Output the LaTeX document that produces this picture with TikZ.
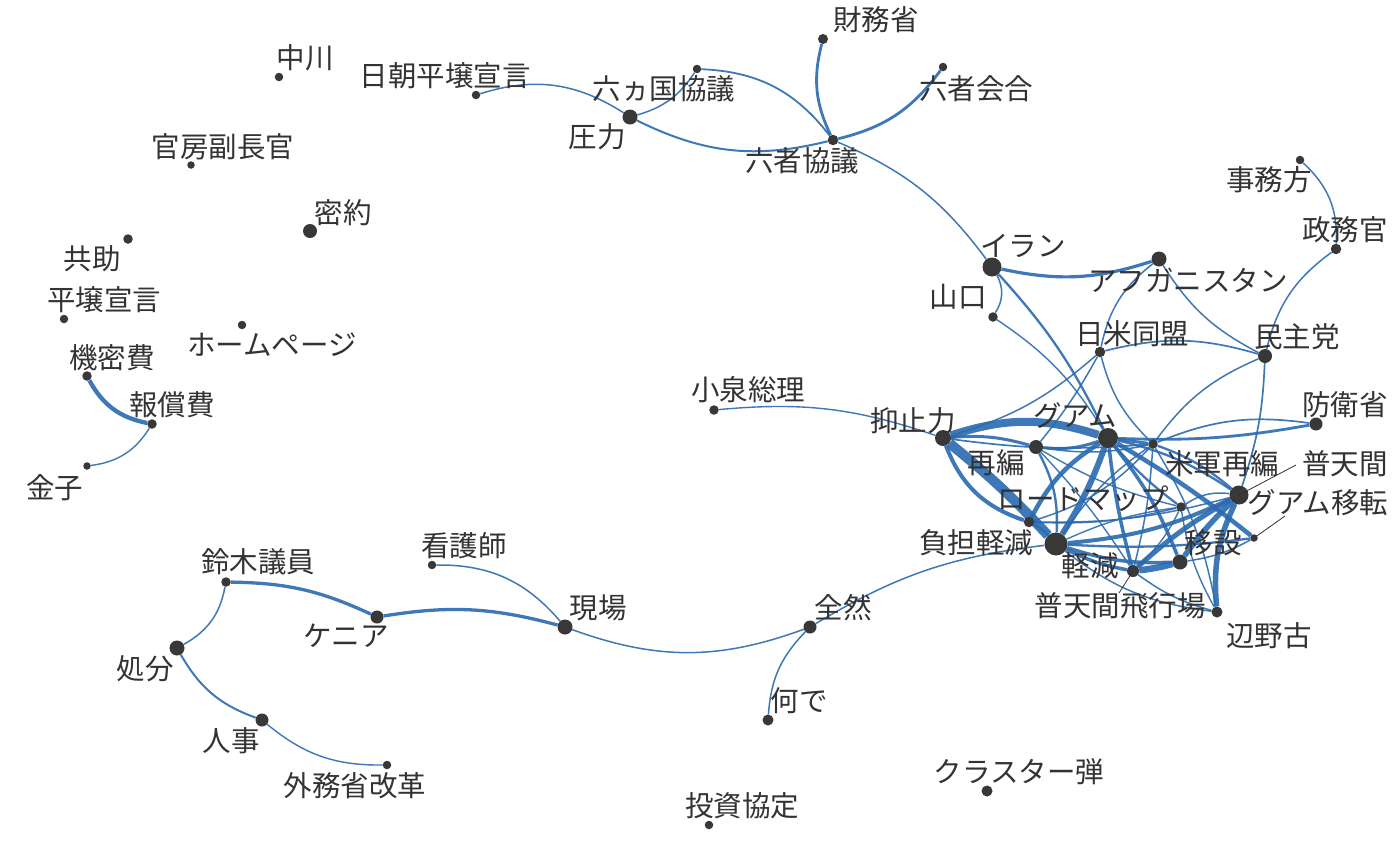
\documentclass[tikz,border=0pt]{standalone}
\usepackage{fontspec}
\newfontfamily\jp{Noto Sans CJK JP}
\usetikzlibrary{backgrounds}
\definecolor{edgeblue}{RGB}{42,106,176}
\definecolor{dotgray}{RGB}{56,56,56}
\definecolor{textgray}{RGB}{51,51,51}
\tikzset{
  dot/.style={circle,fill=dotgray,inner sep=0pt,minimum size=#1},
  lbl/.style={text=textgray,inner sep=0pt,font=\jp\fontsize{28.5}{32}\selectfont},
  lnk/.style={draw=edgeblue,line width=#1,draw opacity=0.9},
  leader/.style={draw=textgray,line width=0.8pt},
}
\begin{document}
\begin{tikzpicture}[x=1pt,y=-1pt]
\path[use as bounding box] (0,0) rectangle (1400,865);

% ---- word nodes (dot size ~ frequency)
\node[dot=8.5pt]  (nakagawa)  at (279,77)  {};
\node[dot=8.5pt]  (nicho)     at (476,95)  {};
\node[dot=7.5pt]  (kanbo)     at (191,165) {};
\node[dot=14pt] (mitsuyaku) at (310,231) {};
\node[dot=9.5pt]  (kyojo)     at (128,239) {};
\node[dot=8.5pt]  (heijo)     at (64,319)  {};
\node[dot=8.5pt]  (homepage)  at (242,325) {};
\node[dot=9.5pt]  (kimitsu)   at (87,376)  {};
\node[dot=9.5pt]  (hosho)     at (152,424) {};
\node[dot=7.5pt]  (kaneko)    at (87,466)  {};
\node[dot=8.5pt]  (rokkakoku) at (697,69)  {};
\node[dot=15pt] (atsuryoku) at (630,117) {};
\node[dot=10pt]  (zaimu)     at (823,39)  {};
\node[dot=8.5pt]  (rokukai)   at (943,67)  {};
\node[dot=10.5pt] (rokukyo)   at (833,140) {};
\node[dot=8.5pt]  (jimu)      at (1300,160) {};
\node[dot=10.5pt] (seimu)     at (1336,249) {};
\node[dot=19pt] (iran)      at (992,267) {};
\node[dot=15pt] (afghan)    at (1159,259) {};
\node[dot=9.5pt]  (yamaguchi) at (993,317) {};
\node[dot=10.5pt] (domei)     at (1100,352) {};
\node[dot=14pt] (minshu)    at (1265,356) {};
\node[dot=13pt] (boei)      at (1316,424) {};
\node[dot=9.5pt]  (koizumi)   at (714,410) {};
\node[dot=16pt] (yokushi)   at (943,438) {};
\node[dot=20pt] (guam)      at (1108,438) {};
\node[dot=14pt] (saihen)    at (1036,447) {};
\node[dot=9.5pt]  (beigun)    at (1153,444) {};
\node[dot=10.5pt] (keigen)    at (1029,522) {};
\node[dot=9.5pt]  (roadmap)   at (1181,507) {};
\node[dot=19pt] (futenma)   at (1239,495) {};
\node[dot=7.5pt]  (iten)      at (1254,538) {};
\node[dot=23pt] (futan)     at (1056,544) {};
\node[dot=15pt] (isetsu)    at (1180,562) {};
\node[dot=12pt] (hikojo)    at (1133,571) {};
\node[dot=11pt] (henoko)    at (1217,612) {};
\node[dot=13pt] (zenzen)    at (810,627) {};
\node[dot=11pt] (nande)     at (768,720) {};
\node[dot=15pt] (genba)     at (565,627) {};
\node[dot=8.5pt]  (kango)     at (432,565) {};
\node[dot=13pt] (kenya)     at (377,617) {};
\node[dot=9.5pt]  (suzuki)    at (226,582) {};
\node[dot=15pt] (shobun)    at (177,648) {};
\node[dot=13pt] (jinji)     at (262,720) {};
\node[dot=8.5pt]  (gaimu)     at (387,765) {};
\node[dot=8.5pt]  (toshi)     at (709,825) {};
\node[dot=11pt] (cluster)   at (987,791) {};

% ---- labels
\node[lbl] (l-nakagawa)  at (305,58)   {中川};
\node[lbl] (l-nicho)     at (445,76)   {日朝平壌宣言};
\node[lbl] (l-kanbo)     at (223,147)  {官房副長官};
\node[lbl] (l-mitsuyaku) at (343,213)  {密約};
\node[lbl] (l-kyojo)     at (92,259)   {共助};
\node[lbl] (l-heijo)     at (104,300)  {平壌宣言};
\node[lbl] (l-homepage)  at (272,345)  {ホームページ};
\node[lbl] (l-kimitsu)   at (112,358)  {機密費};
\node[lbl] (l-hosho)     at (172,405)  {報償費};
\node[lbl] (l-kaneko)    at (55,488)   {金子};
\node[lbl] (l-rokkakoku) at (664,89)   {六ヵ国協議};
\node[lbl] (l-atsuryoku) at (597,137)  {圧力};
\node[lbl] (l-zaimu)     at (876,20)   {財務省};
\node[lbl] (l-rokukai)   at (976,89)   {六者会合};
\node[lbl] (l-rokukyo)   at (802,161)  {六者協議};
\node[lbl] (l-jimu)      at (1269,180) {事務方};
\node[lbl] (l-seimu)     at (1345,230) {政務官};
\node[lbl] (l-iran)      at (1023,246) {イラン};
\node[lbl] (l-afghan)    at (1188,280) {アフガニスタン};
\node[lbl] (l-yamaguchi) at (958,297)  {山口};
\node[lbl] (l-domei)     at (1132,334) {日米同盟};
\node[lbl] (l-minshu)    at (1297,337) {民主党};
\node[lbl] (l-boei)      at (1345,405) {防衛省};
\node[lbl] (l-koizumi)   at (748,390)  {小泉総理};
\node[lbl] (l-yokushi)   at (913,421)  {抑止力};
\node[lbl] (l-guam)      at (1075,416) {グアム};
\node[lbl] (l-saihen)    at (996,463)  {再編};
\node[lbl] (l-beigun)    at (1222,464) {米軍再編};
\node[lbl] (l-futenma)   at (1345,464) {普天間};
\node[lbl] (l-roadmap)   at (1083,499) {ロードマップ};
\node[lbl] (l-iten)      at (1318,503) {グアム移転};
\node[lbl] (l-futan)     at (976,543)  {負担軽減};
\node[lbl] (l-isetsu)    at (1213,543) {移設};
\node[lbl] (l-keigen)    at (1090,566) {軽減};
\node[lbl] (l-hikojo)    at (1120,606) {普天間飛行場};
\node[lbl] (l-henoko)    at (1269,636) {辺野古};
\node[lbl] (l-zenzen)    at (843,608)  {全然};
\node[lbl] (l-nande)     at (799,701)  {何で};
\node[lbl] (l-genba)     at (598,608)  {現場};
\node[lbl] (l-kango)     at (464,546)  {看護師};
\node[lbl] (l-kenya)     at (346,636)  {ケニア};
\node[lbl] (l-suzuki)    at (258,562)  {鈴木議員};
\node[lbl] (l-shobun)    at (145,669)  {処分};
\node[lbl] (l-jinji)     at (231,741)  {人事};
\node[lbl] (l-gaimu)     at (355,786)  {外務省改革};
\node[lbl] (l-toshi)     at (742,806)  {投資協定};
\node[lbl] (l-cluster)   at (1019,772) {クラスター弾};

% ---- leader lines for displaced labels
\coordinate (p-futenma) at (1296,465);
\coordinate (p-iten)    at (1285,516);
\coordinate (p-hikojo)  at (1119,593);
\draw[leader] (futenma.center) -- (p-futenma);
\draw[leader] (iten.center) -- (p-iten);
\draw[leader] (hikojo.center) -- (p-hikojo);

\begin{pgfonlayer}{background}
\fill[white] (0,0) rectangle (1400,865);
% outer clusters
\draw[lnk=1.5pt] (nicho) to[bend left=25] (atsuryoku);
\draw[lnk=1.5pt] (atsuryoku) to[bend right=20] (rokkakoku);
\draw[lnk=2pt] (atsuryoku) to[bend right=20] (rokukyo);
\draw[lnk=1.8pt] (rokkakoku) to[bend left=25] (rokukyo);
\draw[lnk=2.8pt] (zaimu) to[bend right=20] (rokukyo);
\draw[lnk=2.8pt] (rokukyo) to[bend right=20] (rokukai);
\draw[lnk=1.5pt] (rokukyo) to[bend left=15] (iran);
\draw[lnk=3.2pt] (iran) to[bend right=15] (afghan);
\draw[lnk=1.5pt] (iran) to[bend left=30] (yamaguchi);
\draw[lnk=2.3pt] (iran) to[bend left=8] (guam);
\draw[lnk=1.4pt] (yamaguchi) to[bend left=12] (guam);
\draw[lnk=1.5pt] (afghan) to[bend right=20] (domei);
\draw[lnk=1.5pt] (afghan) to[bend right=15] (minshu);
\draw[lnk=1.7pt] (domei) to[bend left=15] (minshu);
\draw[lnk=1.5pt] (minshu) to[bend left=20] (seimu);
\draw[lnk=1.5pt] (seimu) to[bend right=25] (jimu);
\draw[lnk=1.5pt] (minshu) to[bend right=15] (beigun);
\draw[lnk=1.7pt] (minshu) to[bend left=8] (futenma);
\draw[lnk=1.7pt] (boei) to[bend right=15] (beigun);
\draw[lnk=2.8pt] (boei) to[bend left=6] (guam);
\draw[lnk=1.4pt] (koizumi) to[bend left=12] (yokushi);
\draw[lnk=1.5pt] (zenzen) to[bend left=12] (futan);
\draw[lnk=1.5pt] (zenzen) to[bend right=20] (nande);
\draw[lnk=1.5pt] (zenzen) to[bend left=20] (genba);
\draw[lnk=3.3pt] (genba) to[bend right=12] (kenya);
\draw[lnk=1.5pt] (genba) to[bend right=25] (kango);
\draw[lnk=3.3pt] (kenya) to[bend right=12] (suzuki);
\draw[lnk=1.5pt] (suzuki) to[bend left=25] (shobun);
\draw[lnk=2pt] (shobun) to[bend right=20] (jinji);
\draw[lnk=1.4pt] (jinji) to[bend right=20] (gaimu);
\draw[lnk=4.3pt] (kimitsu) to[bend right=25] (hosho);
\draw[lnk=1.4pt] (hosho) to[bend left=25] (kaneko);
% dense core
\draw[lnk=8pt] (yokushi) to[bend left=18] (guam);
\draw[lnk=10pt] (yokushi) to[bend left=4] (futan);
\draw[lnk=4pt] (yokushi) to[bend right=25] (keigen);
\draw[lnk=3pt] (yokushi) to[bend left=10] (saihen);
\draw[lnk=1.7pt] (yokushi) to[bend right=6] (beigun);
\draw[lnk=1.5pt] (yokushi) to[bend right=12] (domei);
\draw[lnk=3pt] (saihen) to[bend right=12] (guam);
\draw[lnk=1.5pt] (saihen) to[bend right=5] (domei);
\draw[lnk=2.4pt] (saihen) to[bend left=15] (futan);
\draw[lnk=1.5pt] (saihen) to[bend right=10] (beigun);
\draw[lnk=1.4pt] (saihen) to[bend right=8] (roadmap);
\draw[lnk=1.4pt] (saihen) to[bend left=5] (hikojo);
\draw[lnk=6pt] (guam) to[bend left=6] (futan);
\draw[lnk=4.5pt] (guam) to[bend right=15] (keigen);
\draw[lnk=3pt] (guam) -- (beigun);
\draw[lnk=4.5pt] (guam) to[bend left=4] (iten);
\draw[lnk=3.5pt] (guam) to[bend left=8] (isetsu);
\draw[lnk=3.5pt] (guam) to[bend right=4] (hikojo);
\draw[lnk=2.3pt] (guam) to[bend right=6] (roadmap);
\draw[lnk=2.3pt] (guam) to[bend left=10] (futenma);
\draw[lnk=1.5pt] (domei) to[bend right=15] (beigun);
\draw[lnk=2.3pt] (beigun) to[bend left=10] (futenma);
\draw[lnk=1.5pt] (beigun) to[bend right=10] (futan);
\draw[lnk=1.5pt] (beigun) to[bend left=5] (hikojo);
\draw[lnk=1.5pt] (beigun) to[bend left=10] (henoko);
\draw[lnk=1.5pt] (beigun) to[bend left=15] (keigen);
\draw[lnk=5.5pt] (futenma) to[bend right=5] (isetsu);
\draw[lnk=5pt] (futenma) to[bend right=6] (hikojo);
\draw[lnk=4pt] (futenma) to[bend left=10] (futan);
\draw[lnk=5.5pt] (futenma) to[bend right=15] (henoko);
\draw[lnk=1.5pt] (futenma) to[bend right=20] (roadmap);
\draw[lnk=1.5pt] (futenma) to[bend left=8] (keigen);
\draw[lnk=6.5pt] (isetsu) to[bend left=4] (hikojo);
\draw[lnk=3.5pt] (isetsu) to[bend left=10] (futan);
\draw[lnk=1.5pt] (isetsu) to[bend right=10] (iten);
\draw[lnk=3.5pt] (hikojo) to[bend left=8] (futan);
\draw[lnk=1.5pt] (hikojo) to[bend right=10] (henoko);
\draw[lnk=1.5pt] (futan) to[bend right=15] (henoko);
\draw[lnk=2.3pt] (futan) to[bend right=5] (iten);
\draw[lnk=2.3pt] (futan) to[bend right=10] (keigen);
\draw[lnk=1.4pt] (keigen) to[bend right=8] (roadmap);
\draw[lnk=1.4pt] (roadmap) to[bend left=10] (hikojo);
\draw[lnk=1.4pt] (roadmap) to[bend right=10] (henoko);
\draw[lnk=1.4pt] (futan) to[bend left=8] (roadmap);
\end{pgfonlayer}
\end{tikzpicture}
\end{document}
